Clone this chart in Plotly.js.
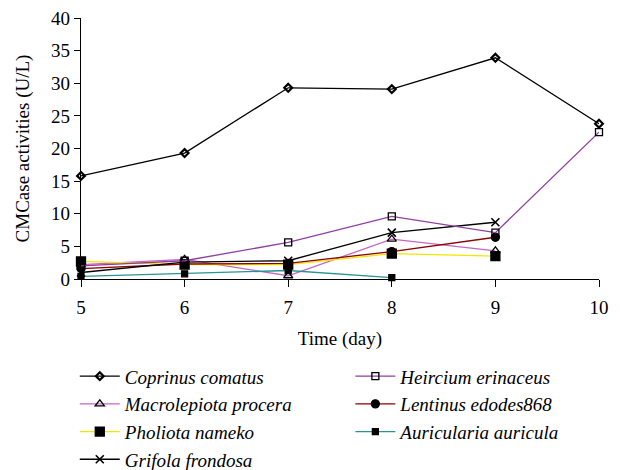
<!DOCTYPE html>
<html>
<head>
<meta charset="utf-8">
<script src="https://cdn.plot.ly/plotly-3.0.1.min.js"></script>
<style>html,body{margin:0;padding:0;background:#fff}#chart{width:620px;height:470px}</style>
</head>
<body>
<div id="chart"></div>
<script>
const days = [5, 6, 7, 8, 9, 10];
const coprinus = [15.8, 19.3, 29.3, 29.1, 33.9, 23.8];
const heircium = [2.0, 2.8, 5.6, 9.6, 7.1, 22.5];
const macrolepiota = [2.2, 3.0, 0.5, 6.1, 4.3];
const lentinus = [1.6, 2.3, 2.4, 4.2, 6.4];
const pholiota = [2.7, 2.2, 2.2, 3.9, 3.5];
const auricularia = [0.4, 0.8, 1.3, 0.2];
const grifola = [1.0, 2.6, 2.8, 7.1, 8.7];

const names = {
  cop: 'Coprinus comatus', hei: 'Heircium erinaceus', mac: 'Macrolepiota procera',
  len: 'Lentinus edodes868', pho: 'Pholiota nameko', aur: 'Auricularia auricula', gri: 'Grifola frondosa'
};

function tr(y, name, lineColor, symbol, size, legend, lw) {
  return {
    x: days.slice(0, y.length), y: y, name: name, type: 'scatter', mode: 'lines+markers',
    line: {color: lineColor, width: 1.3},
    marker: {symbol: symbol, size: size, color: '#000', line: {color: '#000', width: lw || 1.3}},
    cliponaxis: false, legend: legend, legendgroup: name
  };
}

const data = [
  tr(macrolepiota, names.mac, '#c466c4', 'triangle-up-open', 8, 'legend'),
  tr(pholiota, names.pho, '#f2e600', 'square', 9, 'legend'),
  tr(auricularia, names.aur, '#2a9494', 'square', 6, 'legend2'),
  tr(lentinus, names.len, '#8b0000', 'circle', 8, 'legend2'),
  tr(grifola, names.gri, '#000000', 'x-thin-open', 8, 'legend', 1.6),
  tr(heircium, names.hei, '#8e3fa0', 'square-open', 7, 'legend2'),
  tr(coprinus, names.cop, '#000000', 'diamond-open', 6, 'legend', 2.2)
];
const order1 = [names.cop, names.mac, names.pho, names.gri];
const order2 = [names.hei, names.len, names.aur];
data.forEach(d => {
  const i1 = order1.indexOf(d.name), i2 = order2.indexOf(d.name);
  d.legendrank = (i1 >= 0 ? i1 : i2) + 1;
});

const serif = 'Liberation Serif, Times New Roman, serif';
const legendFont = {family: serif, size: 19, style: 'italic'};
const layout = {
  width: 620, height: 470,
  margin: {l: 81, r: 21, t: 18, b: 191, autoexpand: false},
  paper_bgcolor: '#fff', plot_bgcolor: '#fff',
  font: {family: serif, size: 19, color: '#000'},
  showlegend: true,
  xaxis: {
    range: [5, 10], tickvals: [5, 6, 7, 8, 9, 10], showgrid: false, zeroline: false,
    showline: true, linecolor: '#000', linewidth: 1.2, ticks: 'outside', ticklen: 7, tickcolor: '#000',
    tickfont: {family: serif, size: 19}, ticklabelstandoff: 4,
    title: {text: 'Time (day)', font: {family: serif, size: 19}, standoff: 14}
  },
  yaxis: {
    range: [0, 40], tickvals: [0, 5, 10, 15, 20, 25, 30, 35, 40], showgrid: false, zeroline: false,
    showline: true, linecolor: '#000', linewidth: 1.2, ticks: 'outside', ticklen: 6, tickcolor: '#000',
    tickfont: {family: serif, size: 19},
    title: {text: 'CMCase activities (U/L)', font: {family: serif, size: 19}, standoff: 16}
  },
  legend: {
    x: -0.012, y: -0.3, xanchor: 'left', yanchor: 'top', orientation: 'v',
    font: legendFont, traceorder: 'grouped', tracegroupgap: 0,
    bgcolor: 'rgba(0,0,0,0)', itemwidth: 40
  },
  legend2: {
    x: 0.52, y: -0.3, xanchor: 'left', yanchor: 'top', orientation: 'v',
    font: legendFont, traceorder: 'grouped', tracegroupgap: 0,
    bgcolor: 'rgba(0,0,0,0)', itemwidth: 40
  }
};
Plotly.newPlot('chart', data, layout, {displayModeBar: false, staticPlot: true});
</script>
</body>
</html>
